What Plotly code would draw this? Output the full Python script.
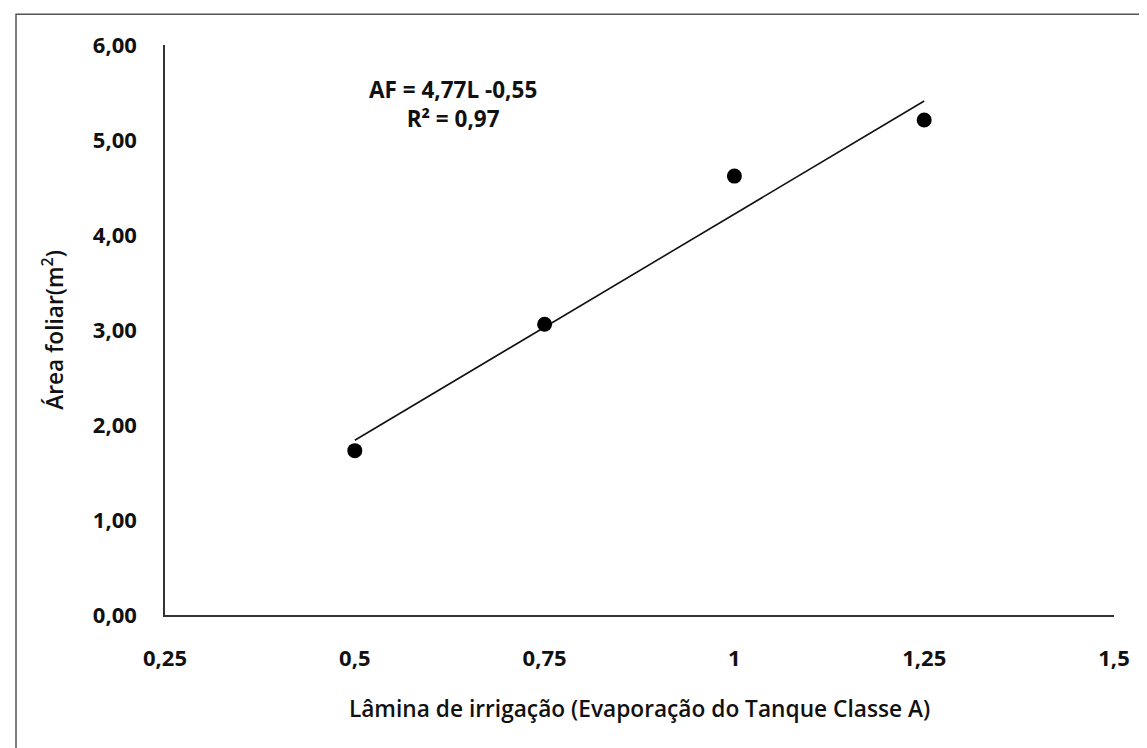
import plotly.graph_objects as go

# Data
lamina = [0.5, 0.75, 1.0, 1.25]
area_foliar = [1.73, 3.06, 4.62, 5.21]
trend_x = [0.5, 1.25]
trend_y = [1.84, 5.41]
x_ticks = [0.25, 0.5, 0.75, 1.0, 1.25, 1.5]
x_tick_labels = ["0,25", "0,5", "0,75", "1", "1,25", "1,5"]
y_ticks = [0, 1, 2, 3, 4, 5, 6]
y_tick_labels = ["0,00", "1,00", "2,00", "3,00", "4,00", "5,00", "6,00"]
equation_lines = ["AF = 4,77L -0,55", "R² = 0,97"]

FONT = "Open Sans"

fig = go.Figure()
fig.add_trace(go.Scatter(x=trend_x, y=trend_y, mode="lines",
                         line=dict(color="#111111", width=1.6),
                         showlegend=False, hoverinfo="skip"))
fig.add_trace(go.Scatter(x=lamina, y=area_foliar, mode="markers",
                         marker=dict(color="#000000", size=15),
                         showlegend=False))

fig.add_annotation(x=0.303, y=1.0, xref="paper", yref="paper",
                   text="<br>".join(equation_lines), showarrow=False,
                   align="center", xanchor="center", yanchor="top",
                   yshift=-27,
                   font=dict(family=FONT, size=22.5, color="#111111", weight="bold"))

# outer chart frame (extends past the photographed area)
fig.add_shape(type="rect", xref="paper", yref="paper",
              x0=-0.157, x1=1.08, y0=-0.3, y1=1.054,
              line=dict(color="#555555", width=1.5))

fig.update_xaxes(range=[0.25, 1.5], tickmode="array", tickvals=x_ticks,
                 ticktext=x_tick_labels, showgrid=False, zeroline=False,
                 showline=True, linecolor="#333333", linewidth=1.5,
                 ticks="outside", ticklen=23, tickcolor="rgba(0,0,0,0)",
                 automargin=False,
                 tickfont=dict(family=FONT, size=22, color="#111111", weight="bold"),
                 title=dict(text="Lâmina de irrigação (Evaporação do Tanque Classe A)",
                            font=dict(family=FONT, size=22.7, color="#111111", weight=600),
                            standoff=30))
fig.update_yaxes(range=[0, 6], tickmode="array", tickvals=y_ticks,
                 ticktext=y_tick_labels, showgrid=False, zeroline=False,
                 showline=True, linecolor="#333333", linewidth=1.5,
                 ticks="outside", ticklen=22, tickcolor="rgba(0,0,0,0)",
                 automargin=False,
                 tickfont=dict(family=FONT, size=22, color="#111111", weight="bold"),
                 title=dict(text="Área foliar(m<sup>2</sup>)",
                            font=dict(family=FONT, size=22.7, color="#111111", weight=600),
                            standoff=23))

fig.update_layout(width=1147, height=748,
                  margin=dict(l=157, r=41, t=37, b=141),
                  paper_bgcolor="white", plot_bgcolor="white",
                  showlegend=False)

fig.write_html("out.html")
